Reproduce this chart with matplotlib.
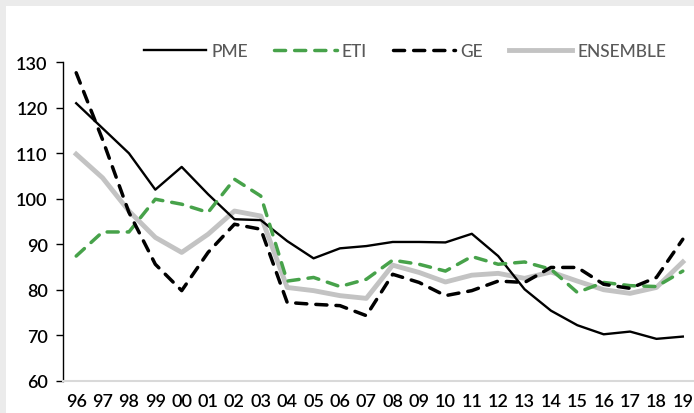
import matplotlib.pyplot as plt
from matplotlib.patches import Rectangle

years = ["96", "97", "98", "99", "00", "01", "02", "03", "04", "05", "06", "07",
         "08", "09", "10", "11", "12", "13", "14", "15", "16", "17", "18", "19"]
pme = [121, 115.5, 110, 102, 107, 101, 95.5, 95.3, 90.7, 86.9, 89.1, 89.6,
       90.5, 90.5, 90.4, 92.3, 87.4, 80.1, 75.4, 72.2, 70.2, 70.8, 69.2, 69.7]
eti = [87.4, 92.7, 92.7, 99.9, 98.8, 97.0, 104.3, 100.6, 81.9, 82.7, 80.7, 82.3,
       86.5, 85.6, 84.1, 87.3, 85.6, 86.1, 84.5, 79.4, 81.6, 80.9, 80.7, 84.1]
ge = [127.7, 113, 97, 85.6, 79.8, 88.2, 94.4, 93.3, 77.2, 76.8, 76.5, 74.3,
      83.4, 81.6, 78.7, 79.8, 81.9, 81.6, 84.9, 84.9, 81.2, 80.3, 82.7, 91.1]
ensemble = [109.8, 104.6, 97.3, 91.5, 88.2, 92.2, 97.3, 96.2, 80.5, 79.8, 78.7, 78.1,
            85.4, 83.8, 81.7, 83.2, 83.6, 82.5, 83.9, 81.9, 80.0, 79.2, 80.5, 86.1]

plt.rcParams['font.family'] = ['Lato', 'DejaVu Sans']

fig = plt.figure(figsize=(6.94, 4.14), dpi=100)
fig.patch.set_facecolor('#ebebeb')
fig.patches.append(Rectangle((6 / 694, 0), 1, 1 - 7 / 414, transform=fig.transFigure,
                             facecolor='white', edgecolor='none', zorder=-1))

ax = fig.add_axes([63 / 694, 32.3 / 414, 633 / 694, 318.4 / 414])
ax.set_facecolor('none')
x = range(len(years))

l1, = ax.plot(x, pme, color='black', lw=1.7, label='PME')
l2, = ax.plot(x, eti, color='#47a24a', lw=2.5, ls=(0, (3.2, 2.6)),
              dash_capstyle='round', label='ETI')
l3, = ax.plot(x, ge, color='black', lw=2.5, ls=(0, (3.2, 2.6)),
              dash_capstyle='round', label='GE')
l4, = ax.plot(x, ensemble, color='#c3c3c3', lw=3.5, label='ENSEMBLE')
# draw ensemble below the others
l4.set_zorder(1)

ax.set_xlim(-0.5, 23.5)
ax.set_ylim(60, 130)
ax.set_yticks(range(60, 131, 10))
ax.set_xticks(list(x))
ax.set_xticklabels(years)

for s in ['top', 'right']:
    ax.spines[s].set_visible(False)
ax.spines['bottom'].set_color('#d9d9d9')
ax.spines['bottom'].set_linewidth(1.5)
ax.spines['left'].set_linewidth(1.0)
ax.tick_params(axis='x', length=0, pad=9, labelsize=13)
ax.tick_params(axis='y', length=5, width=1, pad=6, labelsize=13)
for t in ax.get_xticklabels() + ax.get_yticklabels():
    t.set_fontweight('semibold')

leg = ax.legend(handles=[l1, l2, l3, l4], loc='center', ncol=4, frameon=False,
                bbox_to_anchor=(0.54, 1.035), handlelength=3.6, columnspacing=1.5,
                handletextpad=0.3, fontsize=12.5)
for t in leg.get_texts():
    t.set_color('#595959')
    t.set_fontweight('medium')

fig.savefig('out.png', dpi=100)
